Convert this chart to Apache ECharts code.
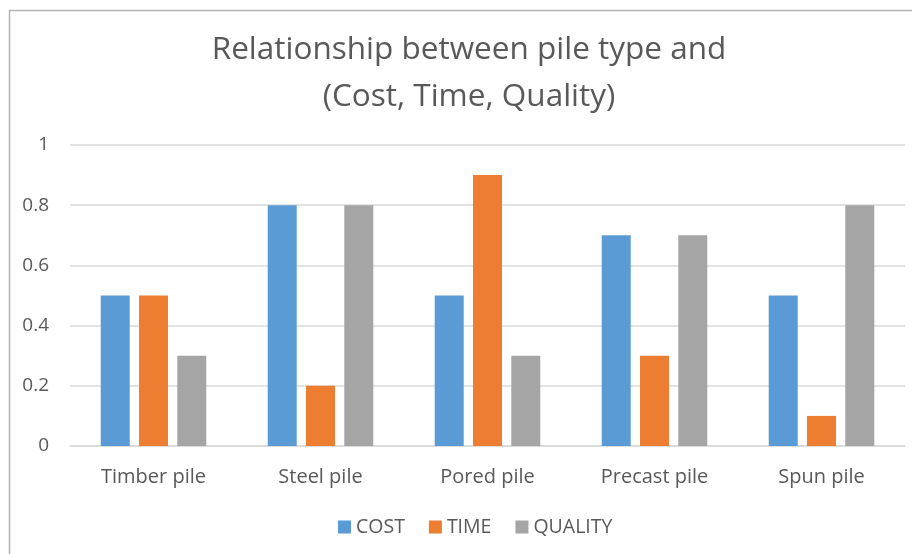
<!DOCTYPE html>
<html><head><meta charset="utf-8">
<script src="https://cdn.jsdelivr.net/npm/echarts@6/dist/echarts.min.js"></script>
<style>html,body{margin:0;padding:0;background:#fff}#c{width:912px;height:554px}</style>
</head><body><div id="c"></div>
<script>
const categories = ['Timber pile', 'Steel pile', 'Pored pile', 'Precast pile', 'Spun pile'];
const cost = [0.5, 0.8, 0.5, 0.7, 0.5];
const time = [0.5, 0.2, 0.9, 0.3, 0.1];
const quality = [0.3, 0.8, 0.3, 0.7, 0.8];
const yTicks = [0, 0.2, 0.4, 0.6, 0.8, 1];

const chart = echarts.init(document.getElementById('c'), null, {renderer: 'canvas'});
const font = '"Open Sans", Lato, sans-serif';
chart.setOption({
  animation: false,
  textStyle: {fontFamily: font},
  title: {
    text: 'Relationship between pile type and\n(Cost, Time, Quality)',
    left: 464, top: 22, textAlign: 'center',
    textStyle: {fontFamily: font, fontSize: 31.5, fontWeight: 'normal', color: '#595959', lineHeight: 47}
  },
  graphic: [{type: 'rect', shape: {x: 9.5, y: 10.5, width: 1000, height: 1000}, style: {fill: 'none', stroke: '#b3b3b3', lineWidth: 1.5}, silent: true}],
  legend: {
    bottom: 12, left: 333, itemWidth: 13, itemHeight: 13, itemGap: 24,
    icon: 'rect',
    textStyle: {fontFamily: font, fontSize: 19.5, color: '#595959'},
    data: ['COST', 'TIME', 'QUALITY']
  },
  grid: {left: 70, right: 7, top: 145, bottom: 108, containLabel: false},
  xAxis: {
    type: 'category', data: categories,
    axisTick: {show: false},
    axisLine: {lineStyle: {color: '#d9d9d9', width: 1.5}},
    axisLabel: {fontFamily: font, fontSize: 20, color: '#595959', margin: 21}
  },
  yAxis: {
    type: 'value', min: yTicks[0], max: yTicks[yTicks.length - 1], interval: 0.2,
    axisLine: {show: false}, axisTick: {show: false},
    splitLine: {lineStyle: {color: '#d9d9d9', width: 1.5}},
    axisLabel: {fontFamily: font, fontSize: 19, color: '#595959', margin: 21,
      formatter: v => String(Math.round(v * 10) / 10)}
  },
  series: [
    {name: 'COST', type: 'bar', data: cost, itemStyle: {color: '#5b9bd5'}, barWidth: 29, barGap: '32%'},
    {name: 'TIME', type: 'bar', data: time, itemStyle: {color: '#ed7d31'}, barWidth: 29, barGap: '32%'},
    {name: 'QUALITY', type: 'bar', data: quality, itemStyle: {color: '#a5a5a5'}, barWidth: 29, barGap: '32%'}
  ]
});
</script></body></html>
